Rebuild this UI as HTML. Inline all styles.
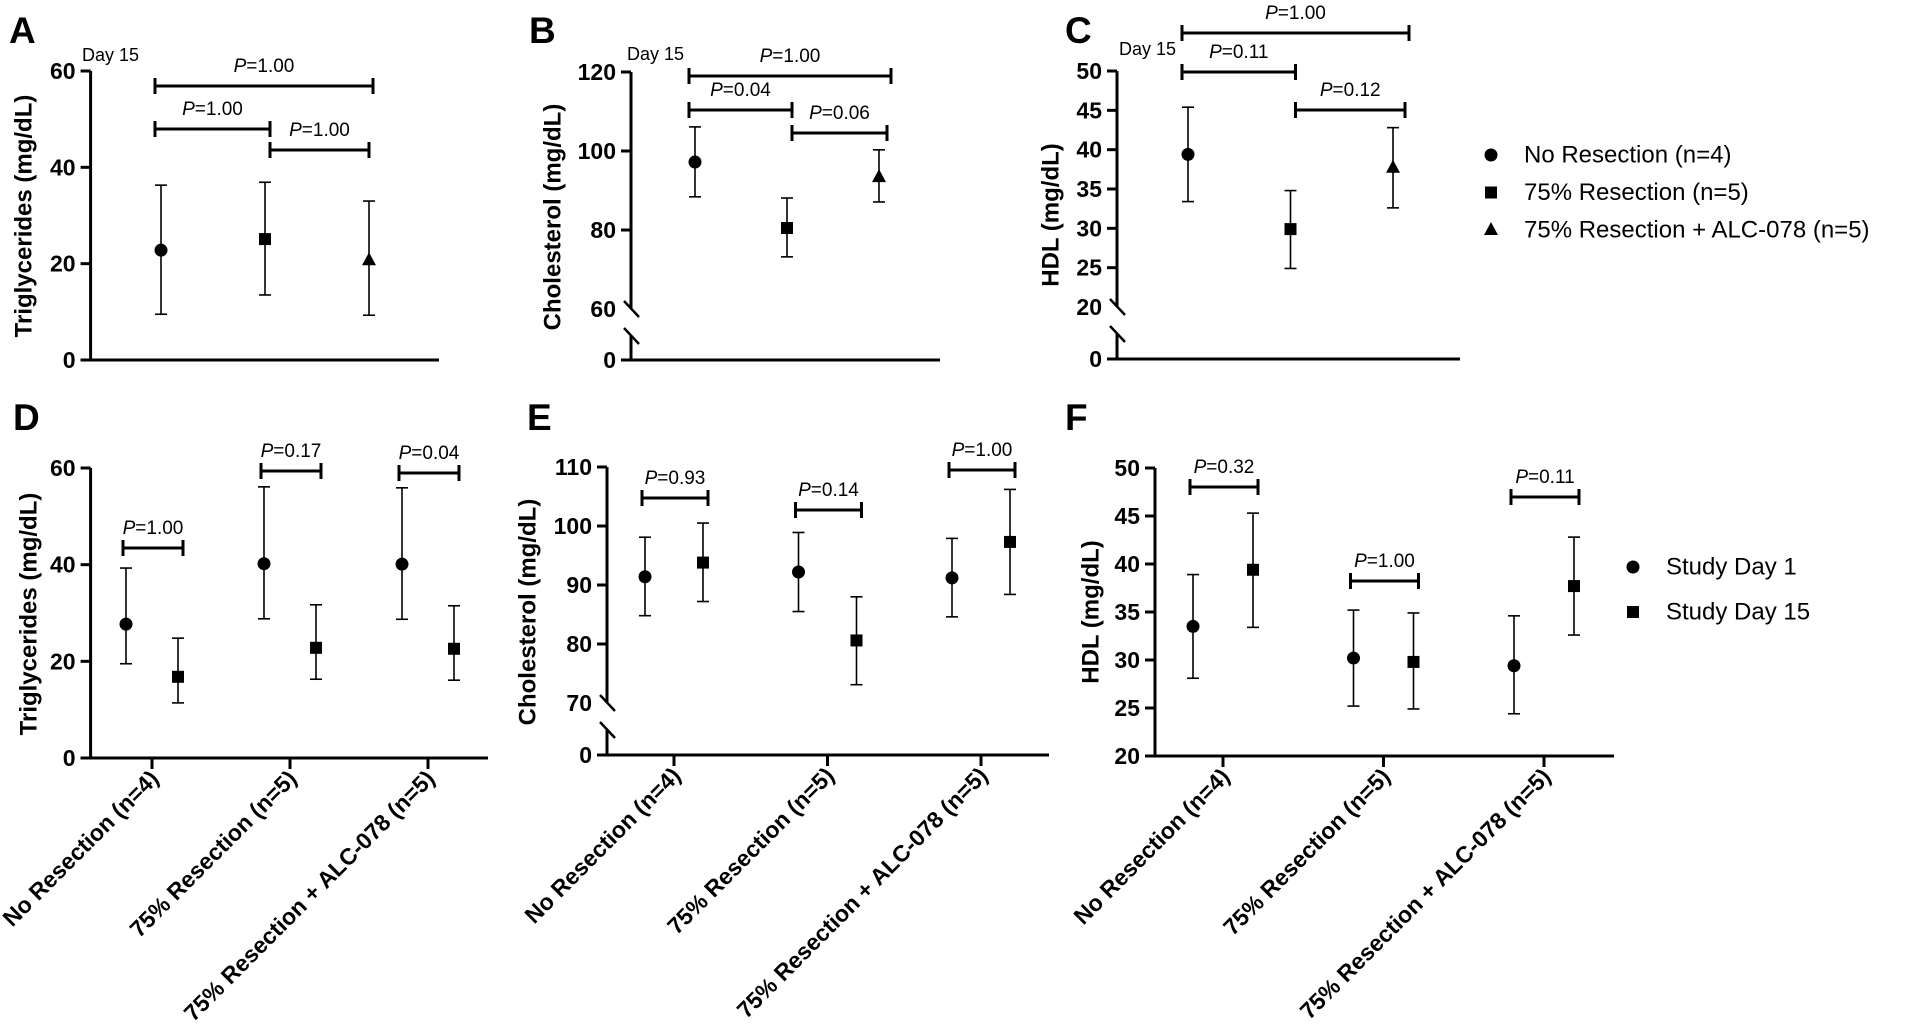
<!DOCTYPE html>
<html><head><meta charset="utf-8"><style>
html,body{margin:0;padding:0;background:#fff;}
svg{display:block;font-family:"Liberation Sans",Arial,sans-serif;}
</style></head><body>
<svg id="fig" width="1920" height="1024" viewBox="0 0 1920 1024" xmlns="http://www.w3.org/2000/svg"></svg>
<script>
// ---- data ----
const groupLabels = ["No Resection (n=4)", "75% Resection (n=5)", "75% Resection + ALC-078 (n=5)"];
const dayLabels = ["Study Day 1", "Study Day 15"];
// Panel A: triglycerides day 15
const aMean = [22.8, 25.1, 20.7];
const aLow = [9.5, 13.5, 9.3];
const aHigh = [36.3, 36.9, 33.0];
const aTicks = [0, 20, 40, 60];
const aP = ["1.00", "1.00", "1.00"];
// Panel B: cholesterol day 15
const bMean = [97.2, 80.5, 93.4];
const bLow = [88.4, 73.2, 87.1];
const bHigh = [106.1, 88.1, 100.3];
const bTicks = [0, 60, 80, 100, 120];
const bP = ["1.00", "0.04", "0.06"];
// Panel C: HDL day 15
const cMean = [39.4, 29.9, 37.7];
const cLow = [33.4, 24.9, 32.6];
const cHigh = [45.4, 34.8, 42.8];
const cTicks = [0, 20, 25, 30, 35, 40, 45, 50];
const cP = ["1.00", "0.11", "0.12"];
// Panel D: triglycerides day1 vs day15
const dDay1Mean = [27.7, 40.2, 40.1];
const dDay1Low = [19.5, 28.8, 28.7];
const dDay1High = [39.3, 56.1, 55.9];
const dDay15Mean = [16.8, 22.8, 22.6];
const dDay15Low = [11.4, 16.3, 16.1];
const dDay15High = [24.8, 31.7, 31.5];
const dTicks = [0, 20, 40, 60];
const dP = ["1.00", "0.17", "0.04"];
// Panel E: cholesterol day1 vs day15
const eDay1Mean = [91.4, 92.2, 91.2];
const eDay1Low = [84.8, 85.5, 84.6];
const eDay1High = [98.1, 98.9, 97.9];
const eDay15Mean = [93.8, 80.6, 97.3];
const eDay15Low = [87.2, 73.1, 88.4];
const eDay15High = [100.5, 88.0, 106.2];
const eTicks = [0, 70, 80, 90, 100, 110];
const eP = ["0.93", "0.14", "1.00"];
// Panel F: HDL day1 vs day15
const fDay1Mean = [33.5, 30.2, 29.4];
const fDay1Low = [28.1, 25.2, 24.4];
const fDay1High = [38.9, 35.2, 34.6];
const fDay15Mean = [39.4, 29.8, 37.7];
const fDay15Low = [33.4, 24.9, 32.6];
const fDay15High = [45.3, 34.9, 42.8];
const fTicks = [20, 25, 30, 35, 40, 45, 50];
const fP = ["0.32", "1.00", "0.11"];

const NS = "http://www.w3.org/2000/svg";
const svg = document.getElementById("fig");
function mk(tag, attrs, parent) {
  const e = document.createElementNS(NS, tag);
  for (const k in attrs) e.setAttribute(k, attrs[k]);
  (parent || svg).appendChild(e);
  return e;
}
function makeScale(cfg) {
  return function (v) {
    if (cfg.brk && v < cfg.lo) return cfg.y0;
    return cfg.yLo + (v - cfg.lo) * (cfg.yHi - cfg.yLo) / (cfg.hi - cfg.lo);
  };
}
function pText(g, x, y, p) {
  const t = mk("text", {x: x, y: y, "text-anchor": "middle", "font-size": 19, fill: "#000"}, g);
  
  
  const ts = mk("tspan", {"font-style": "italic"}, t); ts.textContent = "P";
  const ts2 = mk("tspan", {}, t); ts2.textContent = "=" + p;
}
function bracket(g, x1, x2, y, p, labelY) {
  const b = mk("g", {}, g);
  
  
  mk("line", {x1: x1, x2: x2, y1: y, y2: y, stroke: "#000", "stroke-width": 3}, b);
  mk("line", {x1: x1, x2: x1, y1: y - 8, y2: y + 8, stroke: "#000", "stroke-width": 3}, b);
  mk("line", {x1: x2, x2: x2, y1: y - 8, y2: y + 8, stroke: "#000", "stroke-width": 3}, b);
  pText(b, (x1 + x2) / 2, labelY, p);
}
function marker(g, shape, x, y) {
  let m;
  if (shape === "circle") m = mk("circle", {cx: x, cy: y, r: 6.5, fill: "#000"}, g);
  else if (shape === "square") m = mk("rect", {x: x - 6, y: y - 6, width: 12, height: 12, fill: "#000"}, g);
  else m = mk("polygon", {points: `${x},${y - 8} ${x - 7},${y + 5} ${x + 7},${y + 5}`, fill: "#000"}, g);
  return m;
}
function errPoint(g, shape, x, ym, ylo, yhi, name) {
  const p = mk("g", {}, g);
  
  
  mk("line", {x1: x, x2: x, y1: yhi, y2: ylo, stroke: "#000", "stroke-width": 1.6}, p);
  mk("line", {x1: x - 6, x2: x + 6, y1: yhi, y2: yhi, stroke: "#000", "stroke-width": 1.6}, p);
  mk("line", {x1: x - 6, x2: x + 6, y1: ylo, y2: ylo, stroke: "#000", "stroke-width": 1.6}, p);
  marker(p, shape, x, ym);
}
function axes(g, c, ticks, sy) {
  const yTopPix = sy(ticks[ticks.length - 1]);
  const ax = mk("g", {}, g);
  
  
  if (c.brk) {
    const yb = sy(c.lo);
    mk("line", {x1: c.ax, x2: c.ax, y1: yTopPix, y2: yb, stroke: "#000", "stroke-width": 3}, ax);
    mk("line", {x1: c.ax, x2: c.ax, y1: yb + 27, y2: c.y0 + 1.5, stroke: "#000", "stroke-width": 3}, ax);
    mk("line", {x1: c.ax - 7, x2: c.ax + 8, y1: yb - 8, y2: yb + 8, stroke: "#000", "stroke-width": 2.5}, ax);
    mk("line", {x1: c.ax - 7, x2: c.ax + 8, y1: yb + 19, y2: yb + 35, stroke: "#000", "stroke-width": 2.5}, ax);
  } else {
    mk("line", {x1: c.ax, x2: c.ax, y1: yTopPix, y2: sy(ticks[0]) + 1.5, stroke: "#000", "stroke-width": 3}, ax);
  }
  ticks.forEach(v => {
    const y = sy(v);
    if (!(c.brk && v === c.lo)) mk("line", {x1: c.ax - 10, x2: c.ax, y1: y, y2: y, stroke: "#000", "stroke-width": 3}, ax);
    const t = mk("text", {x: c.ax - 15, y: y, "text-anchor": "end", "dominant-baseline": "central", "font-size": 23, "font-weight": "bold"}, ax);
    
    
    t.textContent = v;
  });
  const xa = mk("line", {x1: c.ax - 10, x2: c.xEnd, y1: c.base, y2: c.base, stroke: "#000", "stroke-width": 3}, g);
  
  
  const yl = mk("text", {x: c.labX, y: c.labY, transform: `rotate(-90 ${c.labX} ${c.labY})`, "text-anchor": "middle", "dominant-baseline": "central", "font-size": 24, "font-weight": "bold"}, g);
  
  
  yl.textContent = c.title;
  const L = mk("text", {x: c.letX, y: c.letY, "font-size": 37, "font-weight": "bold"}, g);
  
  
  L.textContent = c.letter;
}
function topPanel(c, mean, low, high, ticks, ps) {
  const g = mk("g", {});
  
  
  const sy = makeScale(c);
  axes(g, c, ticks, sy);
  const d = mk("text", {x: c.dayX, y: c.dayY, "font-size": 18}, g);
  
  
  d.textContent = "Day 15";
  const shapes = ["circle", "square", "triangle"];
  const xs = mean.map((_, i) => c.x0 + i * c.step);
  mean.forEach((m, i) => errPoint(g, shapes[i], xs[i], sy(m), sy(low[i]), sy(high[i]), 'point-' + shapes[i]));
  const by = c.brY;
  bracket(g, xs[0] - 6, xs[2] + c.r3, by[0], ps[0], by[0] - 14);
  bracket(g, xs[0] - 6, xs[1] + 5, by[1], ps[1], by[1] - 14);
  bracket(g, xs[1] + 5, xs[2] + c.r3 - 4, by[2], ps[2], by[2] - 14);
}
function bottomPanel(c, m1, l1, h1, m2, l2, h2, ticks, ps) {
  const g = mk("g", {});
  
  
  const sy = makeScale(c);
  axes(g, c, ticks, sy);
  groupLabels.forEach((lab, i) => {
    const tx = c.x0 + i * c.step;
    mk("line", {x1: tx, x2: tx, y1: c.base, y2: c.base + 11, stroke: "#000", "stroke-width": 3}, g);
    const ax = tx + 8, ay = c.base + 22;
    const t = mk("text", {x: ax, y: ay, transform: `rotate(-45 ${ax} ${ay})`, "text-anchor": "end", "font-size": 23, "font-weight": "bold"}, g);
    
    
    t.textContent = lab;
    const x1 = tx - c.off, x2 = tx + c.off;
    errPoint(g, "circle", x1, sy(m1[i]), sy(l1[i]), sy(h1[i]), 'point-day1');
    errPoint(g, "square", x2, sy(m2[i]), sy(l2[i]), sy(h2[i]), 'point-day15');
    bracket(g, x1 - 3, x2 + 5, c.brY[i], ps[i], c.brY[i] - 14);
  });
}
function legend(x, y0, gap, labels, shapes, name) {
  const g = mk("g", {});
  
  
  labels.forEach((lab, i) => {
    const y = y0 + i * gap;
    const e = mk("g", {}, g);
    
    
    marker(e, shapes[i], x, y);
    const t = mk("text", {x: x + 33, y: y, "dominant-baseline": "central", "font-size": 24}, e);
    t.textContent = lab;
  });
}

topPanel({letter: "A", ax: 90.6, lo: 0, hi: 60, yLo: 360, yHi: 71, xEnd: 439, x0: 161, step: 104, r3: 4,
  brY: [86, 129, 150], title: "Triglycerides (mg/dL)", labX: 24, labY: 216, letX: 9, letY: 43, dayX: 82, dayY: 61, base: 360},
  aMean, aLow, aHigh, aTicks, aP);
topPanel({letter: "B", ax: 631, brk: true, lo: 60, hi: 120, yLo: 309, yHi: 72, y0: 360, xEnd: 940, x0: 695, step: 92, r3: 12,
  brY: [76, 110, 133], title: "Cholesterol (mg/dL)", labX: 553, labY: 217, letX: 529, letY: 43, dayX: 627, dayY: 60, base: 360},
  bMean, bLow, bHigh, bTicks, bP);
topPanel({letter: "C", ax: 1117, brk: true, lo: 20, hi: 50, yLo: 307, yHi: 71, y0: 359, xEnd: 1460, x0: 1188, step: 102.5, r3: 16,
  brY: [33, 72, 110], title: "HDL (mg/dL)", labX: 1051, labY: 215, letX: 1065, letY: 43, dayX: 1119, dayY: 55, base: 359},
  cMean, cLow, cHigh, cTicks, cP);
bottomPanel({letter: "D", ax: 90.6, lo: 0, hi: 60, yLo: 758, yHi: 468, xEnd: 488, x0: 152, step: 138, off: 26,
  brY: [548, 471, 473], title: "Triglycerides (mg/dL)", labX: 29, labY: 614, letX: 13, letY: 430, base: 758},
  dDay1Mean, dDay1Low, dDay1High, dDay15Mean, dDay15Low, dDay15High, dTicks, dP);
bottomPanel({letter: "E", ax: 607, brk: true, lo: 70, hi: 110, yLo: 703, yHi: 467, y0: 755, xEnd: 1049, x0: 674, step: 153.5, off: 29,
  brY: [498, 510, 470], title: "Cholesterol (mg/dL)", labX: 528, labY: 612, letX: 527, letY: 430, base: 755},
  eDay1Mean, eDay1Low, eDay1High, eDay15Mean, eDay15Low, eDay15High, eTicks, eP);
bottomPanel({letter: "F", ax: 1155, lo: 20, hi: 50, yLo: 756, yHi: 468, xEnd: 1614, x0: 1223, step: 160.5, off: 30,
  brY: [487, 581, 497], title: "HDL (mg/dL)", labX: 1091, labY: 612, letX: 1065, letY: 430, base: 756},
  fDay1Mean, fDay1Low, fDay1High, fDay15Mean, fDay15Low, fDay15High, fTicks, fP);
legend(1491, 155, 37.5, groupLabels, ["circle", "square", "triangle"], "legend-groups");
legend(1633, 567, 45, dayLabels, ["circle", "square"], "legend-days");
</script>
</body></html>
